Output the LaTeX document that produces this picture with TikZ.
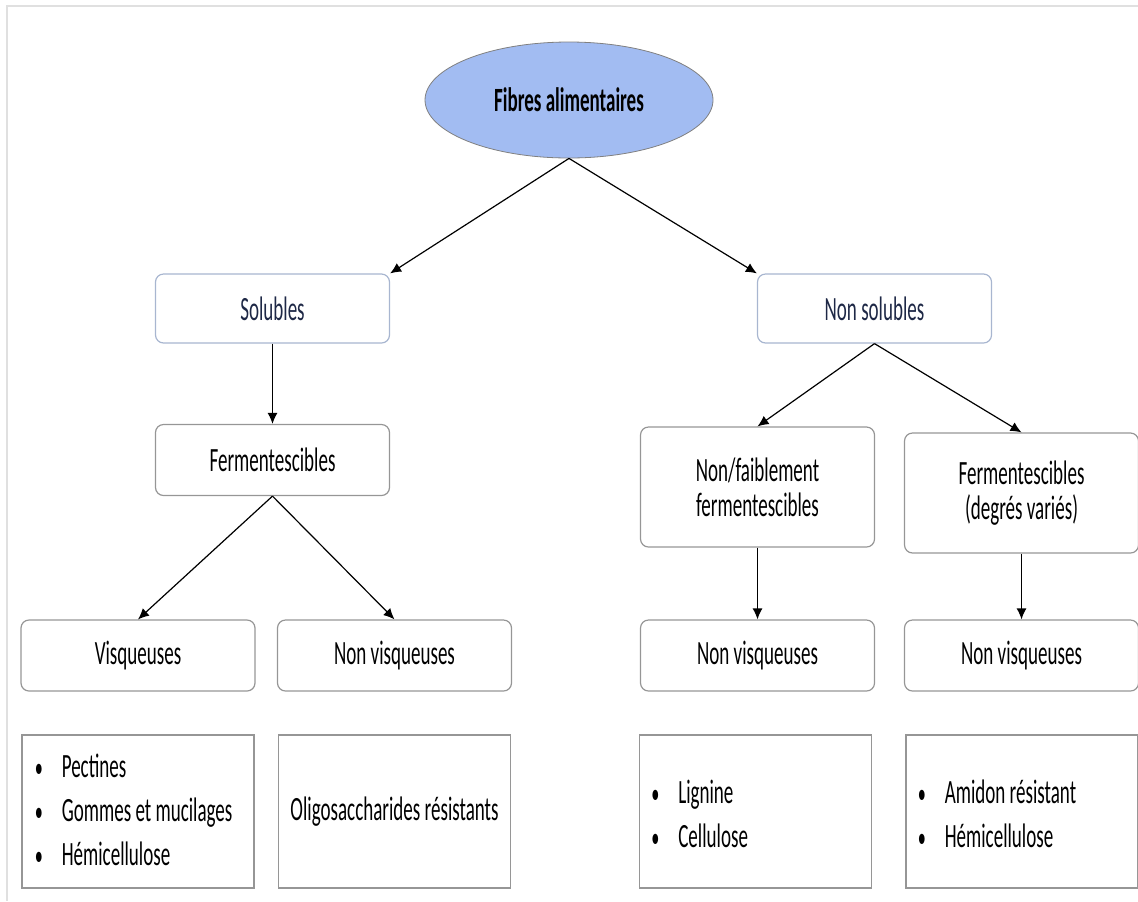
\documentclass[tikz,border=0pt]{standalone}
\usepackage{fontspec}
\setmainfont{Carlito}[FakeStretch=0.56]
\usetikzlibrary{arrows.meta,shapes.geometric}
\definecolor{ellfill}{RGB}{162,188,242}
\definecolor{boxgray}{RGB}{150,150,150}
\definecolor{bluegray}{RGB}{168,182,208}
\definecolor{navy}{RGB}{30,40,70}
\newcommand{\itm}[1]{\makebox[13.5pt][l]{\scalebox{0.85}{\textbullet}}#1}

\begin{document}
\begin{tikzpicture}[x=0.5pt,y=-0.5pt,
    font=\fontsize{17}{17.5}\selectfont,
    box/.style={draw=boxgray, rectangle, rounded corners=4pt, line width=0.6pt, minimum width=117pt, minimum height=35.5pt, inner sep=0pt, align=center},
    topbox/.style={box, draw=bluegray, text=navy, minimum height=34.5pt},
    tallbox/.style={box, minimum height=60pt},
    listbox/.style={draw=boxgray, rectangle, line width=0.6pt, minimum width=116pt, minimum height=76.5pt, inner sep=0pt},
    listtext/.style={anchor=west, inner sep=0pt, align=left, font=\fontsize{17}{22}\selectfont},
    arr/.style={-{Latex[length=5.5pt,width=5pt]}, line width=0.6pt}]
				\useasboundingbox (0,0) rectangle (1138,901);
				\draw[black!12, line width=1pt] (7,901) -- (7,6) -- (1138,6);
				\node[draw=gray, ellipse, fill=ellfill, minimum width=144pt, minimum height=58pt, font=\fontsize{17}{17.5}\selectfont\bfseries] (FA)at(569, 100) {Fibres alimentaires};
				\node[topbox] (SOL)at(272.5, 308.5) {Solubles};
				\node[topbox] (NSOL)at(874.5, 308.5) {Non solubles};
				\node[box] (FERM)at(272.5, 460) {Fermentescibles};
				\node[tallbox] (NFF)at(757.5, 487) {Non/faiblement\\fermentescibles};
				\node[tallbox] (FDV)at(1021.5, 493) {Fermentescibles\\(degrés variés)};
				\node[box] (VIS)at(138, 655.5) {Visqueuses};
				\node[box] (NV1)at(394.5, 655.5) {Non visqueuses};
				\node[box] (NV2)at(757.5, 655.5) {Non visqueuses};
				\node[box] (NV3)at(1021.5, 655.5) {Non visqueuses};
				\node[listbox] (L1)at(138, 811.5) {};
				\node[listbox] (L2)at(394.5, 811.5) {Oligosaccharides résistants};
				\node[listbox] (L3)at(755.5, 811.5) {};
				\node[listbox] (L4)at(1022, 811.5) {};
				\node[listtext] (L1t)at([xshift=6.5pt, yshift=1pt]L1.west) {\itm{Pectines}\\\itm{Gommes et mucilages}\\\itm{Hémicellulose}};
				\node[listtext] (L3t)at([xshift=6pt, yshift=-1pt]L3.west) {\itm{Lignine}\\\itm{Cellulose}};
				\node[listtext] (L4t)at([xshift=6pt, yshift=-1pt]L4.west) {\itm{Amidon résistant}\\\itm{Hémicellulose}};
				\draw[arr] (FA.south) -- (SOL.north east);
				\draw[arr] (FA.south) -- (NSOL.north west);
				\draw[arr] (SOL.south) -- (FERM.north);
				\draw[arr] (FERM.south) -- (VIS.north);
				\draw[arr] (FERM.south) -- (NV1.north);
				\draw[arr] (NSOL.south) -- (NFF.north);
				\draw[arr] (NSOL.south) -- (FDV.north);
				\draw[arr] (NFF.south) -- (NV2.north);
				\draw[arr] (FDV.south) -- (NV3.north);
			\end{tikzpicture}
\end{document}
